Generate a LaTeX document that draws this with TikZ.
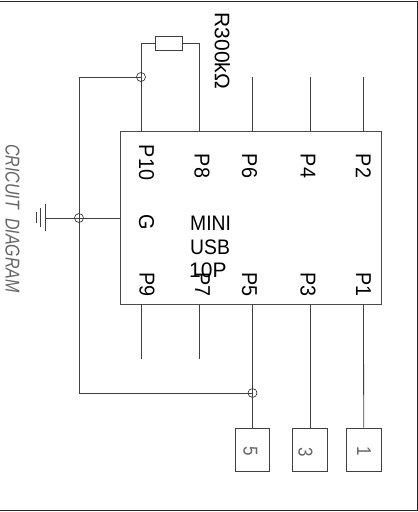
\documentclass[tikz,border=0pt]{standalone}
\usepackage{fontspec}
\setmainfont{Liberation Sans}
\begin{document}
\begin{tikzpicture}[x=1pt,y=-1pt,
 wire/.style={draw=black!75,line width=0.8pt},
 junction/.style={circle,draw=black,line width=0.5pt,minimum size=9pt,inner sep=0pt,fill=none},
 pin/.style={rotate=-90,xscale=0.92,font=\fontsize{21.5}{21.5}\selectfont,inner sep=0pt,anchor=center},
 term/.style={draw=black!75,line width=0.8pt,minimum width=34.5pt,minimum height=43pt,inner sep=0pt},
 termtxt/.style={rotate=-90,xscale=0.85,font=\fontsize{20}{20}\selectfont,inner sep=0pt,text=black!60},
 mid/.style={font=\fontsize{21}{21}\selectfont,inner sep=0pt,anchor=base west}]
\useasboundingbox (0,0) rectangle (418,512);
\draw[black!85,line width=0.9pt] (0,1) -- (417,1) -- (417,510) -- (0,510);
% chip
\node[draw=black!70,line width=0.8pt,minimum width=261pt,minimum height=173pt,inner sep=0pt] (chip) at (250.5,217.5) {};
% pin labels
\node[pin] (p10) at (146.5,162.5) {P10};
\node[pin] (p8) at (202,166) {P8};
\node[pin] (p6) at (249.5,166) {P6};
\node[pin] (p4) at (308,166) {P4};
\node[pin] (p2) at (363.5,166) {P2};
\node[pin] (g) at (146.5,222) {G};
\node[pin] (p9) at (147,284.5) {P9};
\node[pin] (p7) at (202.5,284.5) {P7};
\node[pin] (p5) at (249.5,284.5) {P5};
\node[pin] (p3) at (308,284.5) {P3};
\node[pin] (p1) at (363.5,284.5) {P1};
\node[mid,xscale=0.92] (t1) at (190,230) {MINI};
\node[mid,xscale=0.92] (t2) at (190,254.5) {USB};
\node[mid] (t3) at (189,277) {10P};
% top stubs
\coordinate (a10) at (141,131);
\coordinate (a8) at (199,131);
\coordinate (a6) at (252.5,131);
\coordinate (a4) at (310,131);
\coordinate (a2) at (363.5,131);
\coordinate (e6) at (252.5,77);
\coordinate (e4) at (310,77);
\coordinate (e2) at (363.5,77);
\draw[wire] (a6) -- (e6);
\draw[wire] (a4) -- (e4);
\draw[wire] (a2) -- (e2);
% resistor
\node[draw=black!75,line width=0.8pt,minimum width=27pt,minimum height=14pt,inner sep=0pt] (r) at (168.5,43) {};
\node[rotate=-90,font=\fontsize{21}{21}\selectfont,inner sep=0pt] (rl) at (222.5,51) {R300kΩ};
\draw[wire] (a10) -- (141,43) -- (r.west);
\draw[wire] (a8) -- (199,43) -- (r.east);
% junctions and ground rail
\node[junction] (j1) at (141,77) {};
\node[junction] (j2) at (79,218) {};
\node[junction] (j3) at (252.5,393) {};
\draw[wire] (j1.center) -- (79,77) -- (j2.center);
\draw[wire] (j2.center) -- (79,393) -- (j3.center);
\draw[wire] (j2.center) -- (chip.west |- j2);
% ground symbol
\coordinate (g0) at (45,218);
\draw[wire] (j2.center) -- (g0);
\draw[wire] (45,204) -- (45,231);
\draw[wire] (40.5,208) -- (40.5,227);
\draw[wire] (36,212) -- (36,223);
% bottom stubs
\coordinate (b9) at (141,304);
\coordinate (b7) at (199,304);
\coordinate (b5) at (252.5,304);
\coordinate (b3) at (310,304);
\coordinate (b1) at (363.5,304);
\draw[wire] (b9) -- (141,359);
\draw[wire] (b7) -- (199,359);
% terminals
\node[term] (T5) at (252.5,449.5) {};
\node[term] (T3) at (310,449.5) {};
\node[term] (T1) at (363.7,449.5) {};
\node[termtxt] (n5) at (250.5,451.5) {5};
\node[termtxt] (n3) at (305.5,452.5) {3};
\node[termtxt] (n1) at (364,451) {1};
\draw[wire] (b5) -- (T5.north);
\draw[wire] (b3) -- (T3.north);
\draw[wire] (b1) -- (T1.north);
% title
\node[rotate=-90,xscale=0.8,font=\fontsize{20}{20}\selectfont\itshape,inner sep=0pt,text=black!60] (title) at (12.5,218.5) {CRICUIT\ \ DIAGRAM};
\end{tikzpicture}
\end{document}
